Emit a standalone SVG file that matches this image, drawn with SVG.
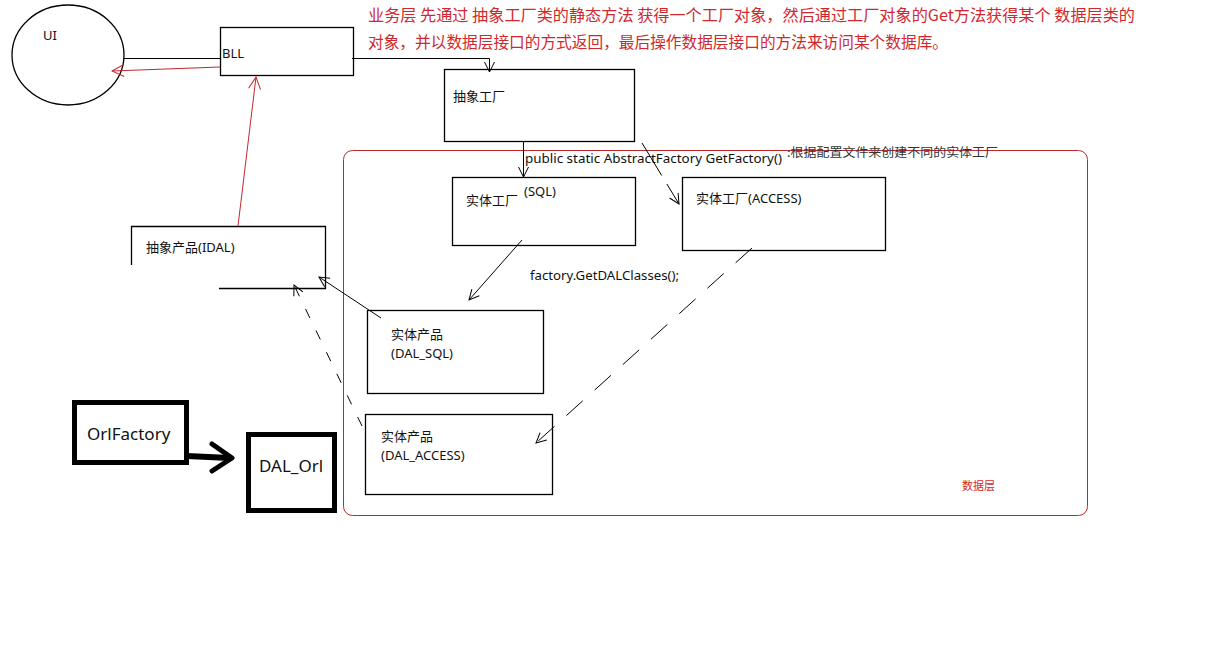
<svg xmlns="http://www.w3.org/2000/svg" width="1227" height="647" viewBox="0 0 1227 647">
<style>
.box{fill:none;stroke:#000;stroke-width:1.3}
.thick{fill:none;stroke:#000;stroke-width:5}
.ln{fill:none;stroke:#000;stroke-width:1}
.red{fill:none;stroke:#c0282d;stroke-width:1}
.t{font-family:"Noto Sans","Noto Sans CJK SC",sans-serif;font-size:13px;fill:#111}
.big{font-family:"Noto Sans","Noto Sans CJK SC",sans-serif;font-size:17px;fill:#111}
.rt{font-family:"Noto Sans CJK SC","Noto Sans",sans-serif;font-size:16px;fill:#d0282d}
</style>
<defs>
<marker id="ar" viewBox="0 0 12 12" refX="11" refY="6" markerWidth="12" markerHeight="12" markerUnits="userSpaceOnUse" orient="auto">
<path d="M1,1 L11,6 L1,11" fill="none" stroke="#000" stroke-width="1"/>
</marker>
<marker id="arr" viewBox="0 0 14 14" refX="13" refY="7" markerWidth="14" markerHeight="14" markerUnits="userSpaceOnUse" orient="auto">
<path d="M1,1 L13,7 L1,13" fill="none" stroke="#c0282d" stroke-width="1"/>
</marker>
</defs>
<rect width="1227" height="647" fill="#fff"/>

<g id="description">
<text class="rt" x="368" y="21" textLength="767" lengthAdjust="spacingAndGlyphs">业务层 先通过 抽象工厂类的静态方法 获得一个工厂对象，然后通过工厂对象的Get方法获得某个 数据层类的</text>
<text class="rt" x="368" y="48" textLength="580" lengthAdjust="spacingAndGlyphs">对象，并以数据层接口的方式返回，最后操作数据层接口的方法来访问某个数据库。</text>
</g>

<g id="data-layer">
<rect class="red" x="343.5" y="150.5" width="744" height="365" rx="9"/>
<text x="962" y="490" font-family="Noto Sans CJK SC,sans-serif" font-size="11" fill="#d0282d">数据层</text>
</g>

<g id="ui">
<ellipse class="box" cx="68" cy="55" rx="56" ry="50"/>
<text class="t" x="43" y="40" font-size="12">UI</text>
</g>

<g id="bll">
<rect class="box" x="220.5" y="27.5" width="133" height="48"/>
<text class="t" x="222" y="58">BLL</text>
</g>

<g id="abstract-factory">
<rect class="box" x="444.5" y="69.5" width="190" height="72"/>
<text class="t" x="453" y="101">抽象工厂</text>
</g>

<g id="factory-sql">
<rect class="box" x="452.5" y="177.5" width="183" height="68"/>
<text class="t" x="466" y="205">实体工厂</text>
<text class="t" x="524" y="196">(SQL)</text>
</g>

<g id="factory-access">
<rect class="box" x="682.5" y="177.5" width="203" height="73"/>
<text class="t" x="696" y="203">实体工厂(ACCESS)</text>
</g>

<g id="abstract-product">
<path class="box" d="M131.5,265 V226.5 H325.5 V288.5 H219"/>
<text class="t" x="146" y="252">抽象产品(IDAL)</text>
</g>

<g id="product-sql">
<rect class="box" x="367.5" y="310.5" width="176" height="83"/>
<text class="t" x="391" y="339">实体产品</text>
<text class="t" x="391" y="358">(DAL_SQL)</text>
</g>

<g id="product-access">
<rect class="box" x="365.5" y="414.5" width="187" height="80"/>
<text class="t" x="381" y="441">实体产品</text>
<text class="t" x="381" y="460">(DAL_ACCESS)</text>
</g>

<g id="orl-factory">
<rect class="thick" x="74.5" y="402.5" width="112" height="60"/>
<text class="big" x="87" y="440">OrlFactory</text>
</g>

<g id="dal-orl">
<rect class="thick" x="248.5" y="434.5" width="86" height="76"/>
<text class="big" x="259" y="472">DAL_Orl</text>
</g>

<g id="labels">
<text class="t" x="525" y="163" textLength="257" lengthAdjust="spacingAndGlyphs">public static AbstractFactory GetFactory()</text>
<text x="787" y="157" font-family="Noto Sans CJK SC,sans-serif" font-size="12" fill="#333" textLength="211" lengthAdjust="spacingAndGlyphs">:根据配置文件来创建不同的实体工厂</text>
<text class="t" x="530" y="280" textLength="149" lengthAdjust="spacingAndGlyphs">factory.GetDALClasses();</text>
</g>

<g id="connectors">
<line class="ln" x1="124" y1="58.5" x2="221" y2="58.5"/>
<line class="red" x1="220" y1="67" x2="112" y2="71" marker-end="url(#arr)"/>
<path class="ln" d="M352,58.5 H489.5 V72" marker-end="url(#ar)"/>
<line class="red" x1="238" y1="226" x2="256" y2="77" marker-end="url(#arr)"/>
<line class="ln" x1="523.5" y1="142" x2="523.5" y2="177" marker-end="url(#ar)"/>
<line class="ln" x1="642" y1="143" x2="679" y2="204" stroke-dasharray="38,10" marker-end="url(#ar)"/>
<line class="ln" x1="522" y1="240" x2="469" y2="300" marker-end="url(#ar)"/>
<line class="ln" x1="381" y1="318" x2="319" y2="277" marker-end="url(#ar)"/>
<line class="ln" x1="362" y1="426" x2="294" y2="285" stroke-dasharray="10,14" marker-end="url(#ar)"/>
<line class="ln" x1="752" y1="248" x2="536" y2="443" stroke-dasharray="22,16" marker-end="url(#ar)"/>
<path d="M187,456 L230,458" fill="none" stroke="#000" stroke-width="6"/>
<path d="M212,444 L232,458 L212,471" fill="none" stroke="#000" stroke-width="5" stroke-linecap="round" stroke-linejoin="round"/>
</g>
</svg>
